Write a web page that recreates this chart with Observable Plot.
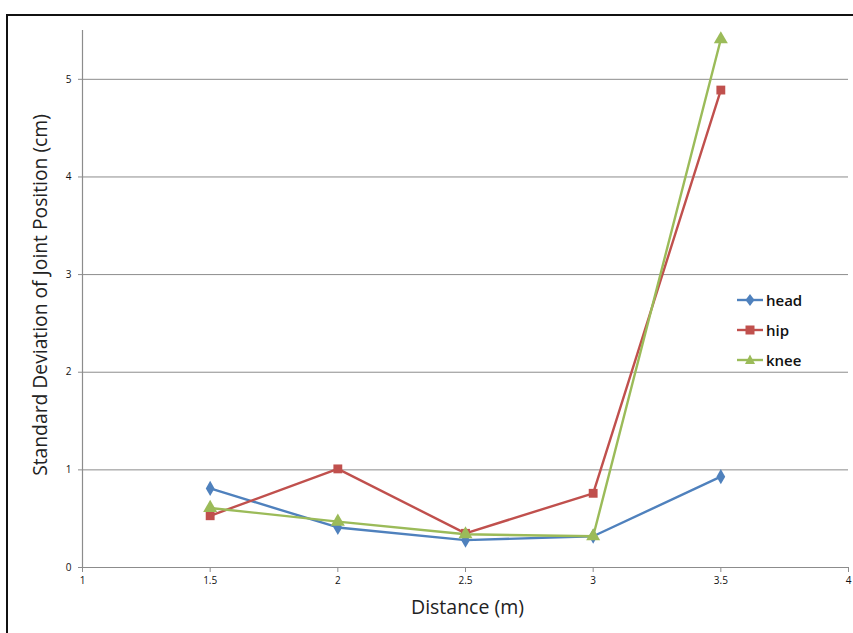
<!DOCTYPE html>
<html>
<head>
<meta charset="utf-8">
<script src="https://cdn.jsdelivr.net/npm/d3@7"></script>
<script src="https://cdn.jsdelivr.net/npm/@observablehq/plot@0.6"></script>
<style>
  html, body { margin: 0; padding: 0; background: #fff; }
  #wrap { position: relative; width: 853px; height: 633px; overflow: hidden; font-family: "Open Sans", sans-serif; }
  #frame { position: absolute; left: 6px; top: 14px; width: 900px; height: 700px; border-top: 2px solid #111; border-left: 2px solid #111; pointer-events: none; }
  #legend { position: absolute; left: 736px; top: 285px; font-family: "Open Sans", sans-serif; font-size: 15px; font-weight: 600; color: #111; }
  #legend .item { display: flex; align-items: center; height: 30px; }
  #legend svg { margin-right: 2px; }
</style>
</head>
<body>
<div id="wrap">
  <div id="chart"></div>
  <div id="frame"></div>
  <div id="legend"></div>
</div>
<script>
const distances = [1.5, 2, 2.5, 3, 3.5];
const seriesNames = ["head", "hip", "knee"];
const headValues = [0.81, 0.41, 0.28, 0.32, 0.93];
const hipValues = [0.53, 1.01, 0.35, 0.76, 4.89];
const kneeValues = [0.61, 0.47, 0.34, 0.32, 5.41];
const xTicks = [1, 1.5, 2, 2.5, 3, 3.5, 4];
const yTicks = [0, 1, 2, 3, 4, 5];
const gridValues = [1, 2, 3, 4, 5];

const colors = ["#4F81BD", "#C0504D", "#9BBB59"];
const symbols = ["diamond", "square", "triangle"];
const symbolR = [4.6, 5, 5.2];

const valuesBySeries = [headValues, hipValues, kneeValues];
const data = [];
seriesNames.forEach((s, i) => {
  distances.forEach((d, j) => data.push({series: s, distance: d, value: valuesBySeries[i][j]}));
});

const fmt = d => String(d);

const chart = Plot.plot({
  width: 853,
  height: 633,
  marginLeft: 82,
  marginRight: 5,
  marginTop: 30,
  marginBottom: 66,
  style: {fontFamily: "'Open Sans', sans-serif", background: "transparent"},
  x: {domain: [1, 4], ticks: xTicks, label: null},
  y: {domain: [0, 5.5], ticks: yTicks, label: null},
  color: {domain: seriesNames, range: colors},
  symbol: {domain: seriesNames, range: symbols},
  marks: [
    Plot.ruleY(gridValues, {stroke: "#8c8c8c", strokeWidth: 1, strokeOpacity: 1}),
    Plot.ruleY([0], {stroke: "#8c8c8c", strokeWidth: 1.2}),
    Plot.ruleX([1], {y1: 0, y2: 5.5, stroke: "#8c8c8c", strokeWidth: 1.2}),
    Plot.axisX({ticks: xTicks, tickFormat: fmt, tickSize: 5, tickPadding: 4, stroke: "#8c8c8c", fontSize: 10, fill: "#111", label: null}),
    Plot.axisY({ticks: yTicks, tickFormat: fmt, tickSize: 4, tickPadding: 7, stroke: "#8c8c8c", fontSize: 10, fill: "#111", label: null}),
    Plot.line(data, {x: "distance", y: "value", z: "series", stroke: "series", strokeWidth: 2.4}),
    ...seriesNames.map((s, i) =>
      Plot.dot(data.filter(d => d.series === s), {x: "distance", y: "value", fill: colors[i], stroke: "none", symbol: "series", r: symbolR[i]})
    ),
    Plot.text(["Distance (m)"], {frameAnchor: "bottom", dx: 2, dy: 46, fontSize: 19.5, fill: "#222"}),
    Plot.text(["Standard Deviation of Joint Position (cm)"], {frameAnchor: "left", textAnchor: "middle", dx: -42, dy: -4, rotate: -90, fontSize: 19.3, fill: "#222"})
  ]
});
document.getElementById("chart").appendChild(chart);

// Legend
const legend = document.getElementById("legend");
const shapes = [
  '<path d="M14,2 L18.5,8 L14,14 L9.5,8 Z"/>',
  '<rect x="9.5" y="3.5" width="9" height="9"/>',
  '<path d="M14,2.5 L19,12 L9,12 Z"/>'
];
seriesNames.forEach((s, i) => {
  const item = document.createElement("div");
  item.className = "item";
  item.innerHTML = `<svg width="28" height="16"><line x1="1" y1="8" x2="27" y2="8" stroke="${colors[i]}" stroke-width="2.4"/><g fill="${colors[i]}">${shapes[i]}</g></svg><span>${s}</span>`;
  legend.appendChild(item);
});
</script>
</body>
</html>
